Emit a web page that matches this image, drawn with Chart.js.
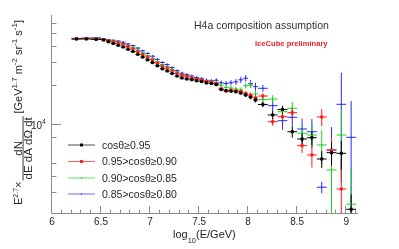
<!DOCTYPE html>
<html>
<head>
<meta charset="utf-8">
<script src="https://cdn.jsdelivr.net/npm/chart.js@4.4.0/dist/chart.umd.min.js"></script>
<style>
  body { margin: 0; background: #fff; }
  canvas { display: block; }
</style>
</head>
<body>
<canvas id="c" width="399" height="249"></canvas>
<script>
// bin edges in log10(E/GeV)
const binEdges = [6.2, 6.3, 6.4, 6.5,
  6.55, 6.6, 6.65, 6.7, 6.75, 6.8, 6.85, 6.9, 6.95, 7.0, 7.05, 7.1, 7.15, 7.2, 7.25, 7.3,
  7.35, 7.4, 7.45, 7.5, 7.55, 7.6, 7.65, 7.7, 7.75, 7.8, 7.85, 7.9, 7.95, 8.0, 8.05, 8.1,
  8.2, 8.3, 8.4, 8.5, 8.6, 8.7, 8.8, 8.9, 9.0, 9.1];

// E^2.7 x flux, one value per bin
const fluxBlack = [45300, 45300, 45000,
  44500, 43100, 41800, 40500, 39300, 37700, 36300, 34500, 32900, 31300,
  29800, 28200, 26700, 25700, 24600, 23500, 22700, 22300, 22000, 21600,
  21300, 20800, 20600, 20200, 18500, 18200, 18000, 17800, 17400, 16800, 16200, 15400,
  14200, 11800, 13000, 8770, 7710, 7890, 5410, 6050, 5980, 2220];
const fluxRed = [45500, 45800, 45300,
  44900, 44000, 43100, 42300, 41300, 39600, 38100, 36200, 34500, 32900,
  31300, 29600, 28000, 27000, 25800, 24700, 23800, 23400, 22700, 22200,
  21900, 21400, 21200, 20600, 18800, 18000, 18300, 18100, 17900, 17300, 16800, 16000,
  16500, 10470, 11440, 12280, 6850, 5810, 11380, 6340, 3180, null];
const fluxGreen = [45500, 45800, 45800,
  45000, 44400, 43900, 43000, 42000, 40500, 39200, 37300, 35500, 33800,
  32200, 30500, 28800, 27800, 26500, 25300, 24300, 23600, 23100, 22500,
  22000, 21600, 21400, 21000, 20000, 19200, 19000, 18700, 18400, 19800, 20000, 17100,
  15500, 15650, 12500, 13280, 8530, 8270, 6930, 4450, 8270, 2430];
const fluxBlue = [45800, 46000, 46300,
  45400, 44800, 44300, 43700, 42800, 41500, 40300, 38600, 36800, 35100,
  33400, 31600, 29900, 28800, 27300, 25900, 24700, 24100, 23500, 22900,
  22400, 21800, 21600, 21800, 20900, 20600, 20900, 21200, 22000, 22600, 20500, 19500,
  18920, 13900, 10660, 11320, 9200, 8770, 3280, 6340, 14250, 7940];

// relative errors
const errBlack = [0.01, 0.01, 0.01,
  0.01, 0.01, 0.01, 0.01, 0.012, 0.012, 0.012, 0.012, 0.012, 0.012,
  0.014, 0.014, 0.014, 0.015, 0.015, 0.016, 0.016, 0.018, 0.018, 0.02,
  0.02, 0.022, 0.022, 0.024, 0.025, 0.026, 0.028, 0.03, 0.032, 0.035, 0.04, 0.045,
  0.05, 0.07, 0.07, 0.1, 0.1, 0.12, 0.15, 0.2, 0.25, 0.3];
const errRed = [0.01, 0.01, 0.01,
  0.012, 0.012, 0.012, 0.012, 0.014, 0.014, 0.014, 0.014, 0.015, 0.015,
  0.016, 0.016, 0.017, 0.018, 0.018, 0.02, 0.02, 0.022, 0.022, 0.024,
  0.025, 0.026, 0.027, 0.028, 0.03, 0.032, 0.034, 0.036, 0.038, 0.04, 0.045, 0.05,
  0.05, 0.07, 0.08, 0.1, 0.12, 0.2, 0.15, 0.25, 0.7, 0];
const errGreen = [0.012, 0.012, 0.012,
  0.013, 0.013, 0.013, 0.014, 0.015, 0.015, 0.016, 0.016, 0.017, 0.018,
  0.018, 0.019, 0.02, 0.02, 0.021, 0.022, 0.023, 0.024, 0.025, 0.026,
  0.027, 0.028, 0.03, 0.032, 0.034, 0.036, 0.038, 0.04, 0.043, 0.046, 0.05, 0.055,
  0.06, 0.07, 0.1, 0.12, 0.15, 0.2, 0.3, 0.6, 0.55, 0.9];
const errBlue = [0.013, 0.013, 0.013,
  0.014, 0.014, 0.015, 0.015, 0.016, 0.016, 0.017, 0.018, 0.018, 0.019,
  0.02, 0.021, 0.022, 0.023, 0.024, 0.025, 0.026, 0.027, 0.028, 0.03,
  0.031, 0.033, 0.035, 0.037, 0.04, 0.043, 0.046, 0.05, 0.055, 0.06, 0.065, 0.07,
  0.06, 0.1, 0.15, 0.15, 0.2, 0.25, 0.1, 0.5, 0.75, 0.9];

const seriesLabels = ["cosθ≥0.95", "0.95>cosθ≥0.90", "0.90>cosθ≥0.85", "0.85>cosθ≥0.80"];
const xTickValues = [6, 6.5, 7, 7.5, 8, 8.5, 9];
const xTickLabels = ["6", "6.5", "7", "7.5", "8", "8.5", "9"];
const yMinorTicks = [3000, 4000, 5000, 8000, 20000, 30000, 40000, 50000, 60000];

const FONT = '"Liberation Sans", Arial, Helvetica, sans-serif';
const axisColor = "#8c8c8c";
const textColor = "#262626";

function makePoints(flux, err) {
  return flux.map((v, i) => ({
    x: (binEdges[i] + binEdges[i + 1]) / 2,
    y: v,
    lo: binEdges[i],
    hi: binEdges[i + 1],
    e: err[i]
  }));
}

const series = [
  { label: seriesLabels[0], flux: fluxBlack, err: errBlack, color: "#000000", r: 2.1 },
  { label: seriesLabels[1], flux: fluxRed, err: errRed, color: "#ff1a1a", r: 2.1 },
  { label: seriesLabels[2], flux: fluxGreen, err: errGreen, color: "#1ed21e", r: 0.9 },
  { label: seriesLabels[3], flux: fluxBlue, err: errBlue, color: "#2a2aff", r: 0.9 }
];

// draw text pieces left to right, returns width
function runs(ctx, parts, x0, base, draw) {
  let x = x0;
  parts.forEach(p => {
    ctx.font = p.s + "px " + FONT;
    if (draw) ctx.fillText(p.t, x, base + (p.dy || 0));
    x += ctx.measureText(p.t).width;
  });
  return x - x0;
}

const decor = {
  id: "decor",
  beforeDatasetsDraw(chart) {
    const { ctx, chartArea: a } = chart;
    const xs = chart.scales.x, ys = chart.scales.y;
    ctx.save();

    // axes
    ctx.strokeStyle = axisColor;
    ctx.lineWidth = 1;
    ctx.beginPath();
    ctx.moveTo(a.left - 0.5, a.top);
    ctx.lineTo(a.left - 0.5, a.bottom + 0.5);
    ctx.lineTo(a.right, a.bottom + 0.5);
    // x ticks
    for (let i = 0; i <= 31; i++) {
      const v = 6 + i * 0.1;
      const px = Math.round(xs.getPixelForValue(v)) - 0.5;
      const len = (i % 5 === 0) ? 7 : 3.5;
      ctx.moveTo(px, a.bottom);
      ctx.lineTo(px, a.bottom - len);
    }
    // y ticks
    yMinorTicks.forEach(v => {
      const py = Math.round(ys.getPixelForValue(v)) + 0.5;
      ctx.moveTo(a.left, py);
      ctx.lineTo(a.left + 4.5, py);
    });
    const p4 = Math.round(ys.getPixelForValue(10000)) + 0.5;
    ctx.moveTo(a.left, p4);
    ctx.lineTo(a.left + 9, p4);
    ctx.stroke();

    // error bars
    ctx.beginPath();
    ctx.rect(a.left, a.top, a.right - a.left, a.bottom - a.top);
    ctx.clip();
    chart.data.datasets.slice().reverse().forEach(ds => {
      ctx.strokeStyle = ds.borderColor;
      ds.data.forEach(p => {
        if (p.y == null) return;
        const px = xs.getPixelForValue(p.x), py = ys.getPixelForValue(p.y);
        ctx.beginPath();
        ctx.moveTo(xs.getPixelForValue(p.lo), py);
        ctx.lineTo(xs.getPixelForValue(p.hi), py);
        if (p.e > 0) {
          const top = ys.getPixelForValue(p.y * (1 + p.e));
          const bot = p.e >= 0.95 ? a.bottom : ys.getPixelForValue(p.y * (1 - p.e));
          ctx.moveTo(px, top);
          ctx.lineTo(px, bot);
        }
        ctx.stroke();
      });
    });
    ctx.restore();
  },
  afterDraw(chart) {
    const { ctx } = chart;
    const xs = chart.scales.x;
    ctx.save();
    ctx.fillStyle = textColor;
    ctx.textBaseline = "alphabetic";

    // x tick labels
    ctx.font = "10px " + FONT;
    ctx.textAlign = "center";
    xTickValues.forEach((v, i) => {
      ctx.fillText(xTickLabels[i], xs.getPixelForValue(v), 225);
    });
    ctx.textAlign = "left";

    // x title
    runs(ctx, [{ t: "log", s: 11 }, { t: "10", s: 7.5, dy: 4.5 }, { t: "(E/GeV)", s: 11 }], 173, 238, true);

    // y label 10^4
    runs(ctx, [{ t: "10", s: 10 }, { t: "4", s: 7, dy: -5 }], 31, 128.5, true);

    // y title, rotated (x runs upward from screen y = 205)
    const pre = [{ t: "E", s: 11 }, { t: "2.7", s: 7, dy: -4.5 }, { t: "×", s: 11 }];
    const post = [{ t: "[GeV", s: 11 }, { t: "1.7", s: 8, dy: -5 }, { t: " m", s: 11 }, { t: "-2", s: 8, dy: -5 },
      { t: " sr", s: 11 }, { t: "-1", s: 8, dy: -5 }, { t: " s", s: 11 }, { t: "-1", s: 8, dy: -5 }, { t: "]", s: 11 }];
    const num = [{ t: "dN", s: 11.5 }];
    const den = [{ t: "dE dA dΩ dt", s: 11.5 }];
    const wPre = runs(ctx, pre, 0, 0, false);
    const wPost = runs(ctx, post, 0, 0, false);
    const wNum = runs(ctx, num, 0, 0, false);
    const wDen = runs(ctx, den, 0, 0, false);
    const wFrac = Math.max(wNum, wDen) + 2;
    const fx = wPre + 1;
    ctx.translate(22, 205);
    ctx.rotate(-Math.PI / 2);
    runs(ctx, pre, 0, 0, true);
    runs(ctx, num, fx + (wFrac - wNum) / 2, -0.5, true);
    runs(ctx, den, fx + (wFrac - wDen) / 2, 10, true);
    ctx.fillRect(fx, 0.6, wFrac, 0.9);
    runs(ctx, post, 185 - wPost, 0, true);
    ctx.setTransform(1, 0, 0, 1, 0, 0);

    // titles
    ctx.fillStyle = "#333333";
    ctx.font = "10.5px " + FONT;
    ctx.fillText("H4a composition assumption", 194, 29);
    ctx.fillStyle = "#e8232c";
    ctx.font = "bold 7.6px " + FONT;
    ctx.fillText("IceCube preliminary", 255, 46);

    // legend
    const rows = [145, 161.5, 178, 194];
    chart.data.datasets.forEach((ds, i) => {
      const y = rows[i];
      ctx.strokeStyle = ds.borderColor;
      ctx.globalAlpha = 0.7;
      ctx.lineWidth = 1;
      ctx.beginPath();
      ctx.moveTo(68, y);
      ctx.lineTo(95, y);
      ctx.stroke();
      ctx.globalAlpha = 1;
      ctx.fillStyle = ds.borderColor;
      const s = ds.pointRadius * Math.SQRT2;
      ctx.fillRect(81.5 - s / 2, y - s / 2, s, s);
      ctx.fillStyle = textColor;
      ctx.font = "10.5px " + FONT;
      ctx.fillText(ds.label, 102, y + 3.8);
    });
    ctx.restore();
  }
};

const chart = new Chart(document.getElementById("c"), {
  type: "scatter",
  data: {
    datasets: series.map(s => ({
      label: s.label,
      data: makePoints(s.flux, s.err),
      borderColor: s.color,
      backgroundColor: s.color,
      pointStyle: "rect",
      pointRadius: s.r,
      pointBorderWidth: 0,
      pointHoverRadius: s.r
    }))
  },
  options: {
    responsive: false,
    animation: false,
    devicePixelRatio: 1,
    layout: { padding: { left: 0, right: 41, top: 15, bottom: 0 } },
    plugins: { legend: { display: false }, tooltip: { enabled: false } },
    scales: {
      x: {
        type: "linear", min: 6, max: 9.12, bounds: "data",
        ticks: { display: false }, grid: { display: false }, border: { display: false },
        afterFit: s => { s.height = 36; }
      },
      y: {
        type: "logarithmic", min: 2078, max: 69300, bounds: "data",
        ticks: { display: false }, grid: { display: false }, border: { display: false },
        afterFit: s => { s.width = 52; }
      }
    }
  },
  plugins: [decor]
});
</script>
</body>
</html>
